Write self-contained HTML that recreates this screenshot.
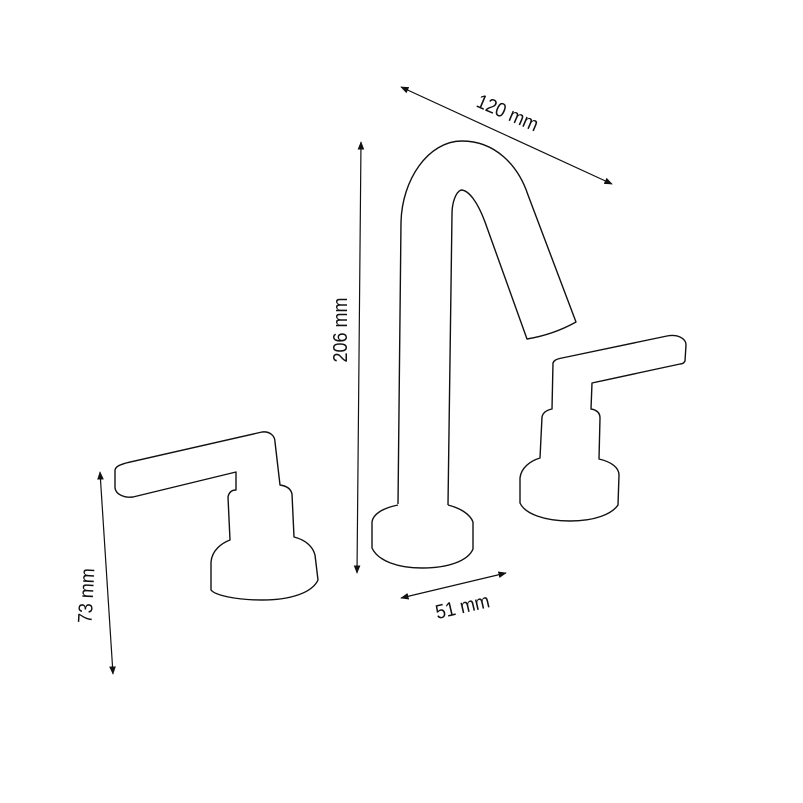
<!DOCTYPE html>
<html><head><style>
html,body{margin:0;padding:0;background:#fff;width:803px;height:803px;overflow:hidden}
text{font-family:"Liberation Sans",sans-serif;font-size:20px;fill:#111}
</style></head><body>
<svg width="803" height="803" viewBox="0 0 803 803" xmlns="http://www.w3.org/2000/svg">
<defs>
<marker id="a" viewBox="0 0 10 10" refX="9" refY="5" markerWidth="7" markerHeight="7" orient="auto-start-reverse"><path d="M0,1 L10,5 L0,9 z" fill="#111"/></marker>
</defs>
<g fill="none" stroke="#111" stroke-width="1.4" stroke-linejoin="round">
<path d="M398,504 L401,222 C402,180 428,141 462,141 C495,141 518,165 528,195 L576,322 C560,331 545,336 527,339 L485,222 C478,203 469,190 461,190 C456,192 452,202 452,214 L448,505"/>
<path d="M398,505 C383,508 373,514 372,522 L372,548 C378,561 398,568 422,568 C448,568 468,561 473,549 L473,522 C470,514 460,508 448,505"/>
<path d="M115,470 C116,466 120,465 126,463 L262,432 C270,431 275,436 275,442 L280,485 C287,486 291,489 292,494 L294,537 C306,540 313,547 315,555 L318,580 C312,593 290,600 262,600 C235,600 215,595 211,590 L211,562 C212,550 222,543 230,540 L228,497 C229,492 232,490 236,490 L236,472 L133,497 C125,498 116,495 115,488 Z"/>
<path d="M553,363 C554,360 557,359 562,358 L667,336 C677,334 686,338 686,345 L685,361 C684,363 682,364 680,364 L592,383 L591,409 C597,410 600,413 600,418 L599,459 C612,462 619,468 619,475 L618,505 C612,514 595,521 570,521 C545,521 525,514 520,503 L520,478 C521,468 530,461 540,458 L542,417 C543,412 547,410 552,409 Z"/>
<line x1="401" y1="87" x2="612" y2="184" marker-start="url(#a)" marker-end="url(#a)" stroke-width="1.2"/>
<line x1="361" y1="142" x2="357" y2="573" marker-start="url(#a)" marker-end="url(#a)" stroke-width="1.2"/>
<line x1="401" y1="598" x2="506" y2="573" marker-start="url(#a)" marker-end="url(#a)" stroke-width="1.2"/>
<line x1="100" y1="472" x2="113" y2="674" marker-start="url(#a)" marker-end="url(#a)" stroke-width="1.2"/>
</g>
<text x="0" y="0" text-anchor="middle" transform="translate(505,119) rotate(23) scale(0.9,1)">120 mm</text>
<text x="0" y="0" text-anchor="middle" transform="translate(347,330) rotate(-90) scale(0.9,1)">206 mm</text>
<text x="0" y="0" text-anchor="middle" transform="translate(464,613) rotate(-13) scale(0.9,1)">51 mm</text>
<text x="0" y="0" text-anchor="middle" transform="translate(93,596) rotate(-87) scale(0.9,1)">73 mm</text>
</svg>
</body></html>
